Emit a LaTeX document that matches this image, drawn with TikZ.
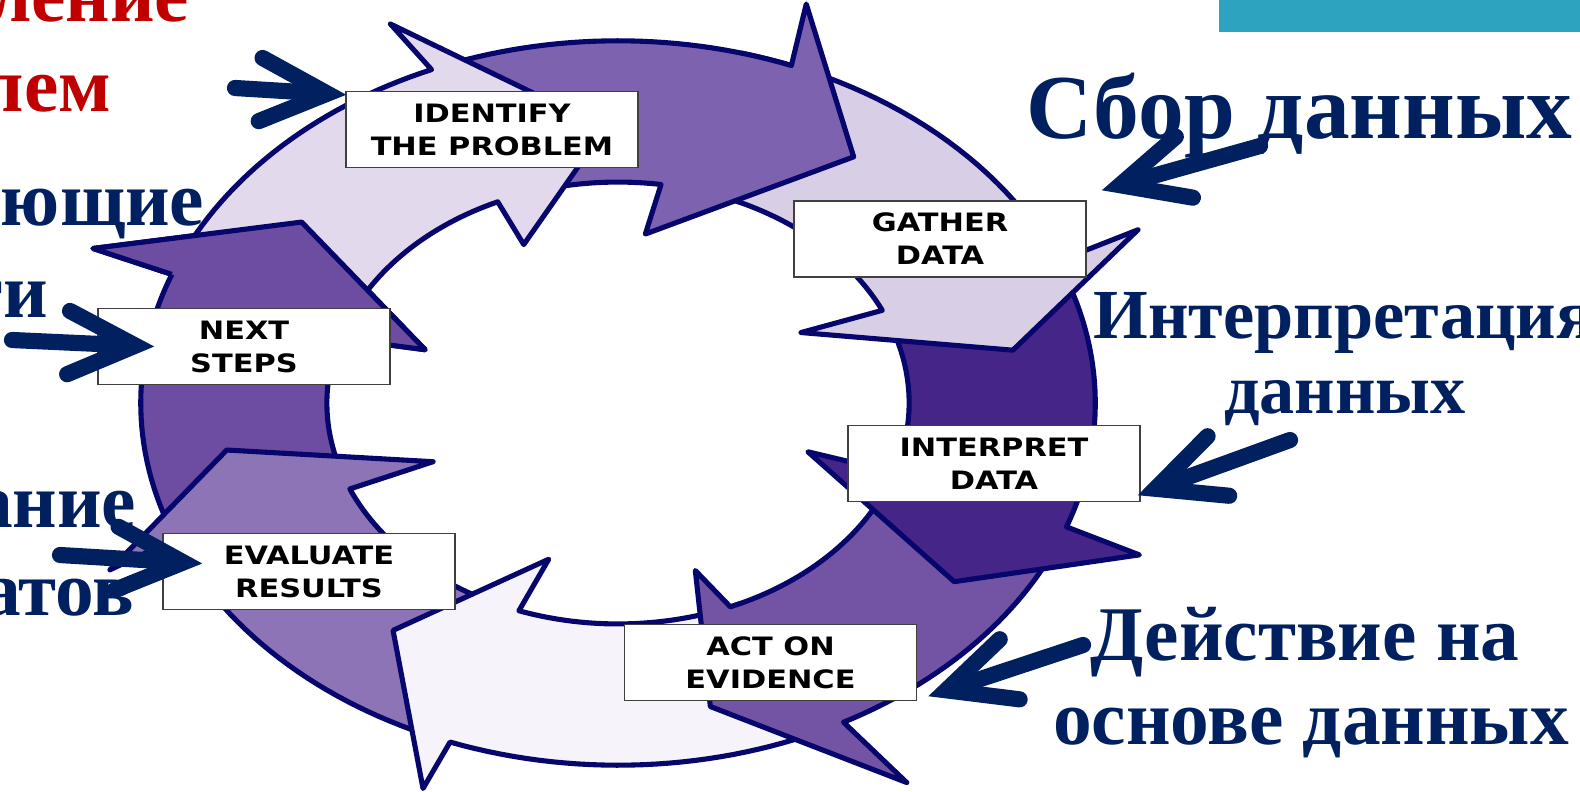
\documentclass[tikz,border=0pt]{standalone}
\usepackage{fontspec}
\setmainfont{Liberation Serif}
\newfontfamily\stagefont{DejaVu Sans}[FakeStretch=1.2]
\usetikzlibrary{arrows.meta,calc}
\definecolor{ringedge}{HTML}{06066C}
\definecolor{navy}{HTML}{002060}
\definecolor{slidered}{HTML}{C00000}
\definecolor{slideteal}{HTML}{2EA3C0}
\definecolor{idfill}{HTML}{E3D9EC}
\definecolor{topfill}{HTML}{7D63AF}
\definecolor{gatherfill}{HTML}{D8CFE6}
\definecolor{interpfill}{HTML}{452688}
\definecolor{actfill}{HTML}{7353A3}
\definecolor{bottomfill}{HTML}{F6F3FA}
\definecolor{evalfill}{HTML}{8D74B6}
\definecolor{nextfill}{HTML}{6C4DA1}
\tikzset{
  segment/.style={draw=ringedge, line width=1.45pt, line join=round},
  stage/.style={draw=black!75, line width=0.4pt, fill=white, minimum width=2.92cm,
    minimum height=0.76cm, inner sep=0pt, align=center,
    font=\stagefont\bfseries\fontsize{7.2}{9.4}\selectfont},
  ru/.style={text=navy, inner sep=0pt, font=\bfseries\fontsize{22}{26}\selectfont},
  pointer/.style={draw=navy, line width=4.6pt, line cap=round,
    -{Straight Barb[length=19pt,width=18pt,line cap=round,line join=miter]}}
}
\begin{document}
\begin{tikzpicture}[x=0.01cm, y=-0.01cm]
\useasboundingbox (0,0) rectangle (1580,791);
\clip (0,0) rectangle (1580,791);
\fill[slideteal] (1219,0) rectangle (1580,32);

\begin{scope}[shift={(618,403)}, x=4.77cm, y=-3.62cm]
  \foreach \col/\atail/\aoj/\aob/\aobr/\atip/\atipr/\aib/\aibr/\aij in {
      nextfill/161/200.8/201.2/1.18/217/0.83/200/0.43/197,
      evalfill/114/158/156.6/1.16/171/0.83/157.3/0.42/157.1,
      bottomfill/65/110.6/111/1.14/126.9/0.785/108.6/0.455/109.9,
      actfill/22/61.8/60/1.21/77/0.86/70.7/0.49/67.3,
      interpfill/340/380/381/1.17/395/0.86/378.7/0.42/378.3,
      gatherfill/285/337/336.3/1.19/350/0.84/333.1/0.43/335.2,
      topfill/250/291.3/289.7/1.17/306/0.84/277/0.47/278.5,
      idfill/205/247/245.5/1.15/268/0.76/245.7/0.48/245.6}
    \path[segment, fill=\col] plot[domain=\atail:\aoj, samples=30] ({cos(\x)},{sin(\x)})
      -- (\aob:\aobr) -- (\atip:\atipr) -- (\aib:\aibr) -- (\aij:0.61)
      -- plot[domain=\aij:\atail, samples=30] ({0.61*cos(\x)},{0.61*sin(\x)}) -- cycle;
  \fill[nextfill] (200.8:1) -- (201.2:1.18) -- (217:0.83) -- (200:0.43) -- (197:0.61) -- cycle;
  \draw[segment] (200.8:1) -- (201.2:1.18) -- (217:0.83) -- (200:0.43) -- (197:0.61);
\end{scope}

\node[ru, text=slidered, anchor=base east] (defline1) at (190,22) {Определение};
\node[ru, text=slidered, anchor=base east] (defline2) at (112,112) {проблем};
\node[ru, anchor=base east] (nextline1) at (205,225) {Следующие};
\node[ru, anchor=base east] (nextline2) at (49,317) {шаги};
\node[ru, anchor=base east] (evalline1) at (137,527) {Оценивание};
\node[ru, anchor=base east] (evalline2) at (135,615) {результатов};
\node[ru, font=\bfseries\fontsize{26}{30}\selectfont, anchor=base west] (sbor) at (1026,139) {Сбор данных};
\node[ru, font=\bfseries\fontsize{20}{24}\selectfont, anchor=base west] (interpline1) at (1093,338) {Интерпретация};
\node[ru, font=\bfseries\fontsize{20}{24}\selectfont, anchor=base] (interpline2) at (1345,413) {данных};
\node[ru, anchor=base] (actline1) at (1305,660) {Действие на};
\node[ru, anchor=base] (actline2) at (1311,744) {основе данных};

\node[stage] (identify) at (492,129.5) {IDENTIFY\\THE PROBLEM};
\node[stage] (gather) at (940,239) {GATHER\\DATA};
\node[stage] (interpret) at (994,463.5) {INTERPRET\\DATA};
\node[stage] (act) at (770.5,662.5) {ACT ON\\EVIDENCE};
\node[stage] (evaluate) at (309,571.5) {EVALUATE\\RESULTS};
\node[stage] (next) at (244,346.5) {NEXT\\STEPS};

\coordinate (idtail) at (235,88);
\coordinate (nexttail) at (12,340);
\coordinate (evaltail) at (60,555);
\coordinate (gathertail) at (1260,146);
\coordinate (interptail) at (1290,440);
\coordinate (acttail) at (1083,645);
\draw[pointer] (idtail) -- ($(identify.north west)+(1,4)$);
\draw[pointer] (nexttail) -- ($(next.west)+(57,0)$);
\draw[pointer] (evaltail) -- ($(evaluate.west)+(40,-8)$);
\draw[pointer] (gathertail) -- ($(gather.north east)+(15,-10)$);
\draw[pointer] (interptail) -- ($(interpret.south east)+(-3,-7)$);
\draw[pointer] (acttail) -- ($(act.south east)+(11,-5)$);
\end{tikzpicture}
\end{document}
